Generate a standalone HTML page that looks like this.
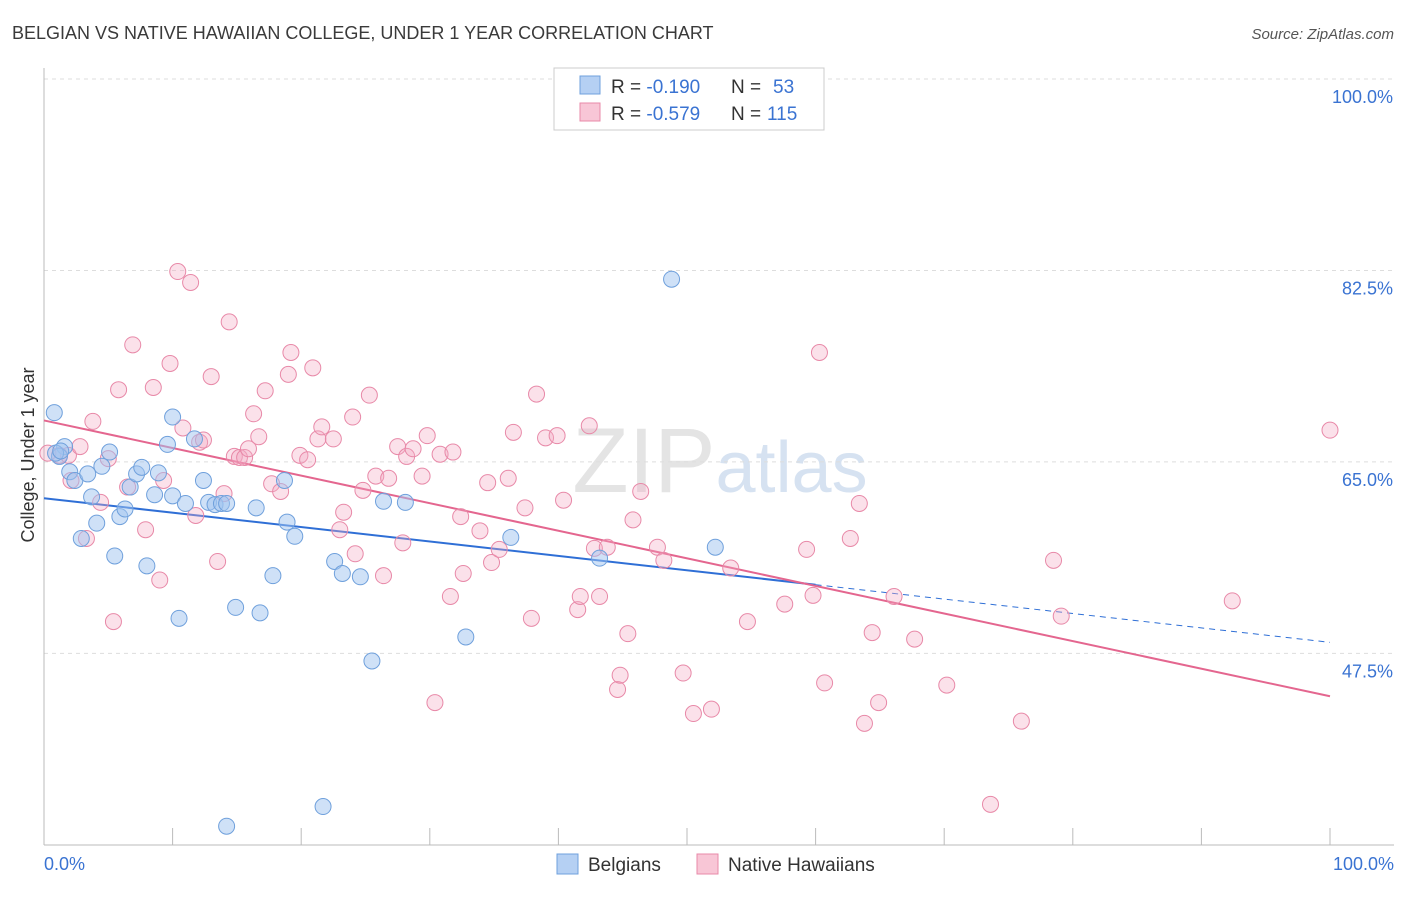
<!DOCTYPE html>
<html><head><meta charset="utf-8">
<style>
body{margin:0;background:#fff;font-family:"Liberation Sans",sans-serif;}
svg text{font-family:"Liberation Sans",sans-serif;}
</style></head>
<body>
<svg id="chart" width="1406" height="892" xmlns="http://www.w3.org/2000/svg">
<text x="12" y="39" font-size="18" fill="#3a3a3a">BELGIAN VS NATIVE HAWAIIAN COLLEGE, UNDER 1 YEAR CORRELATION CHART</text>
<text x="1394" y="39" font-size="15" fill="#555" text-anchor="end" font-style="italic">Source: ZipAtlas.com</text>
<text x="720" y="492" font-size="92" text-anchor="middle" fill="#e4e4e4" font-family="Liberation Serif">ZIP<tspan fill="#d6e2f1" font-family="Liberation Sans" font-size="72">atlas</tspan></text>
<g id="grid"></g>
<g id="axes"></g>
<g id="trends"></g>
<g id="points"></g>
<text transform="translate(34,455) rotate(-90)" font-size="18" fill="#333" text-anchor="middle">College, Under 1 year</text>
<g>
<rect x="554" y="68" width="270" height="62" fill="#fff" stroke="#ccc"/>
<rect x="580" y="76" width="20" height="18" fill="#b5d0f3" stroke="#6fa0dc"/>
<rect x="580" y="103" width="20" height="18" fill="#f8c6d6" stroke="#e889a8"/>
<text x="611" y="93" font-size="19" fill="#333">R = <tspan fill="#3a73d2">-0.190</tspan><tspan x="731">N = </tspan><tspan fill="#3a73d2" x="773">53</tspan></text>
<text x="611" y="120" font-size="19" fill="#333">R = <tspan fill="#3a73d2">-0.579</tspan><tspan x="731">N = </tspan><tspan fill="#3a73d2" x="767">115</tspan></text>
</g>
<g>
<rect x="557" y="854" width="21" height="20" fill="#b5d0f3" stroke="#6fa0dc"/>
<text x="588" y="871" font-size="19" fill="#333">Belgians</text>
<rect x="697" y="854" width="21" height="20" fill="#f8c6d6" stroke="#e889a8"/>
<text x="728" y="871" font-size="19" fill="#333">Native Hawaiians</text>
</g>
</svg>
<script>
const xTickLabels=["0.0%","100.0%"];
const yTicks=[100,82.5,65,47.5];
const yTickLabels=["100.0%","82.5%","65.0%","47.5%"];
const blueX=[0.8,1.6,1.2,2.0,2.4,3.4,4.5,5.1,3.7,4.1,2.9,5.5,5.9,6.3,6.7,7.2,7.6,8.6,8.9,10.0,9.6,10.0,11.0,11.7,12.4,12.8,13.3,13.8,14.2,8.0,10.5,14.9,16.5,16.8,17.8,18.7,18.9,19.5,22.6,23.2,24.6,26.4,28.1,25.5,32.8,36.3,43.2,52.2,48.8,21.7,14.2,0.9,1.3];
const blueY=[69.5,66.4,65.5,64.1,63.3,63.9,64.6,65.9,61.8,59.4,58.0,56.4,60.0,60.7,62.7,63.9,64.5,62.0,64.0,61.9,66.6,69.1,61.2,67.1,63.3,61.3,61.1,61.2,61.2,55.5,50.7,51.7,60.8,51.2,54.6,63.3,59.5,58.2,55.9,54.8,54.5,61.4,61.3,46.8,49.0,58.1,56.2,57.2,81.7,33.5,31.7,65.8,66.0];
const pinkX=[1.2,1.9,2.1,2.8,3.8,3.3,4.4,5.0,5.4,5.8,6.9,6.5,7.9,8.5,9.0,9.3,9.8,10.4,10.8,11.4,11.8,12.1,12.4,13.0,13.5,14.0,14.4,14.8,15.2,15.6,15.9,16.3,16.7,17.2,17.7,18.4,19.2,19.0,19.9,20.5,20.9,21.3,21.6,22.5,23.0,23.3,24.0,24.2,24.8,25.3,25.8,26.4,26.8,27.5,27.9,28.2,28.7,29.4,29.8,30.4,30.8,31.6,31.8,32.4,32.6,33.9,34.5,34.8,35.4,36.1,36.5,37.4,37.9,38.3,39.0,39.9,40.4,41.5,41.7,42.4,42.8,43.2,43.8,44.6,44.8,45.4,45.8,46.4,47.7,48.2,49.7,50.5,51.9,53.4,54.7,57.6,59.3,59.8,60.3,60.7,62.7,63.4,63.8,64.4,64.9,66.1,67.7,70.2,73.6,76.0,78.5,79.1,92.4,100,0.3];
const pinkY=[65.6,65.6,63.3,66.4,68.7,58.0,61.3,65.3,50.4,71.6,75.7,62.7,58.8,71.8,54.2,63.3,74.0,82.4,68.1,81.4,60.1,66.8,67.0,72.8,55.9,62.1,77.8,65.5,65.4,65.4,66.2,69.4,67.3,71.5,63.0,62.3,75.0,73.0,65.6,65.2,73.6,67.1,68.2,67.1,58.8,60.4,69.1,56.6,62.4,71.1,63.7,54.6,63.5,66.4,57.6,65.5,66.2,63.7,67.4,43.0,65.7,52.7,65.9,60.0,54.8,58.7,63.1,55.8,57.0,63.5,67.7,60.8,50.7,71.2,67.2,67.4,61.5,51.5,52.7,68.3,57.1,52.7,57.2,44.2,45.5,49.3,59.7,62.3,57.2,56.0,45.7,42.0,42.4,55.3,50.4,52.0,57.0,52.8,75.0,44.8,58.0,61.2,41.1,49.4,43.0,52.7,48.8,44.6,33.7,41.3,56.0,50.9,52.3,67.9,65.8];
const NS="http://www.w3.org/2000/svg";
const X=v=>44+v*12.86, Y=v=>79+(100-v)*10.94;
function mk(tag,attrs,parent){const e=document.createElementNS(NS,tag);for(const k in attrs)e.setAttribute(k,attrs[k]);document.getElementById(parent).appendChild(e);return e;}
yTicks.forEach((t,i)=>{
  const g=mk('line',{x1:44,x2:1394,y1:Y(t),y2:Y(t),stroke:'#ddd','stroke-dasharray':'4,4'},'grid');
  
  
  const tx=mk('text',{x:1393,y:Y(t)+24,'font-size':18,fill:'#3a73d2','text-anchor':'end'},'axes');
  tx.textContent=yTickLabels[i];
  
  
});
const ax=mk('line',{x1:44,x2:1394,y1:845,y2:845,stroke:'#bbb'},'axes');


const ay=mk('line',{x1:44,x2:44,y1:68,y2:845,stroke:'#bbb'},'axes');


for(let i=1;i<=10;i++){const t=mk('line',{x1:X(i*10),x2:X(i*10),y1:828,y2:845,stroke:'#bbb'},'axes');
  
  }
[[0,'start',44],[100,'end',1394]].forEach((d,i)=>{const t=mk('text',{x:d[2],y:870,'font-size':18,fill:'#3a73d2','text-anchor':d[1]},'axes');t.textContent=xTickLabels[i];
  
  });
function fit(xs,ys){const n=xs.length;let mx=0,my=0;for(let i=0;i<n;i++){mx+=xs[i];my+=ys[i];}mx/=n;my/=n;let a=0,b=0;for(let i=0;i<n;i++){a+=(xs[i]-mx)*(ys[i]-my);b+=(xs[i]-mx)**2;}const s=a/b;return [s,my-s*mx];}
const bf=fit(blueX,blueY), pf=fit(pinkX,pinkY);
let l=mk('line',{x1:X(0),y1:Y(bf[1]),x2:X(60),y2:Y(bf[1]+60*bf[0]),stroke:'#2f6fd6','stroke-width':2},'trends');


l=mk('line',{x1:X(60),y1:Y(bf[1]+60*bf[0]),x2:X(100),y2:Y(bf[1]+100*bf[0]),stroke:'#2f6fd6','stroke-width':1,'stroke-dasharray':'6,5'},'trends');


l=mk('line',{x1:X(0),y1:Y(pf[1]),x2:X(100),y2:Y(pf[1]+100*pf[0]),stroke:'#e4668f','stroke-width':2},'trends');


pinkX.forEach((x,i)=>{const c=mk('circle',{cx:X(x),cy:Y(pinkY[i]),r:8,fill:'rgba(244,170,195,0.35)',stroke:'#e889a8','stroke-width':1},'points');
  
  });
blueX.forEach((x,i)=>{const c=mk('circle',{cx:X(x),cy:Y(blueY[i]),r:8,fill:'rgba(160,196,240,0.5)',stroke:'#6fa0dc','stroke-width':1},'points');
  
  });
</script>
</body></html>
